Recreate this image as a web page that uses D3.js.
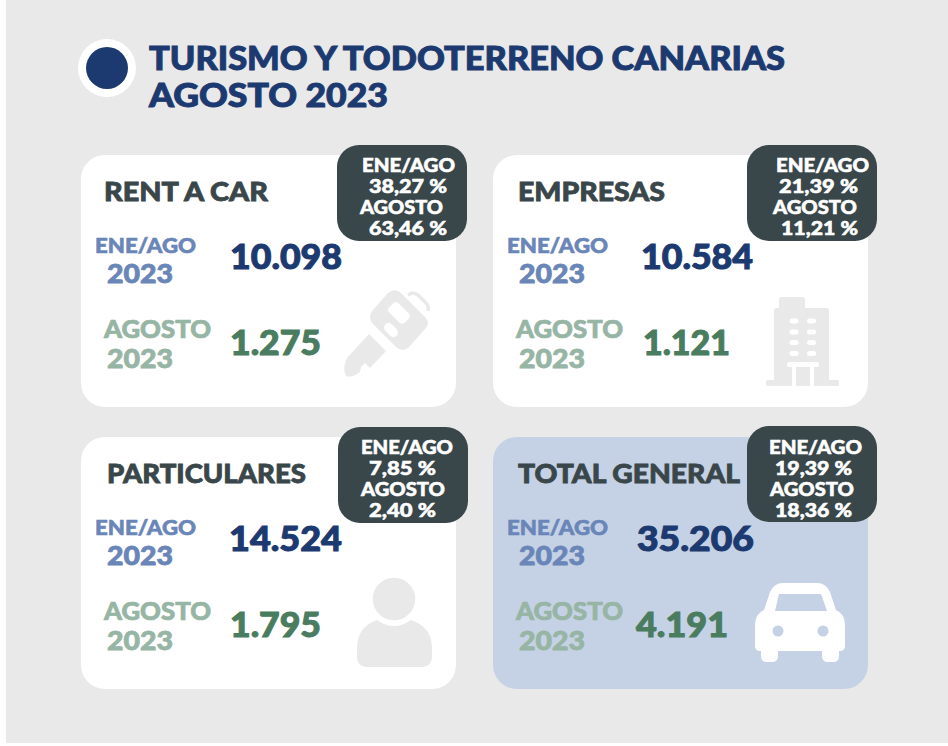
<!DOCTYPE html>
<html>
<head>
<meta charset="utf-8">
<script src="https://cdn.jsdelivr.net/npm/d3@7"></script>
<style>
  html, body { margin: 0; padding: 0; background: #fff; }
  text { font-family: "Lato", "Open Sans", sans-serif; font-weight: 900; }
</style>
</head>
<body>
<svg id="chart" width="948" height="746"></svg>
<script>
// Data
const categories = ["RENT A CAR", "EMPRESAS", "PARTICULARES", "TOTAL GENERAL"];
const eneAgoValues = [10098, 10584, 14524, 35206];
const agostoValues = [1275, 1121, 1795, 4191];
const eneAgoChange = [38.27, 21.39, 7.85, 19.39];
const agostoChange = [63.46, 11.21, 2.4, 18.36];
const titleLines = ["TURISMO Y TODOTERRENO CANARIAS", "AGOSTO 2023"];
const eneAgoLabel = "ENE/AGO";
const agostoLabel = "AGOSTO";
const yearLabel = "2023";

// Spanish number formats: 10.098 and 38,27 %
const esLocale = d3.formatLocale({ decimal: ",", thousands: ".", grouping: [3], currency: ["", " €"] });
const formatCount = esLocale.format(",d");
const formatPct = (v) => esLocale.format(".2f")(v) + " %";

// Layout: [x start, x end] of each text, relative to the card's left edge
const cardX = d3.scaleOrdinal().domain([0, 1, 2, 3]).range([81, 493, 81, 493]);
const cardY = d3.scaleOrdinal().domain([0, 1, 2, 3]).range([155, 155, 437, 437]);
const cardW = 375;
const cardH = 252;
const titleSpan = [[23, 187], [25, 172], [26, 225], [25, 247]];
const eneValueSpan = [[149, 261], [148, 260], [148, 261], [144, 261]];
const agoValueSpan = [[149, 240], [150, 237], [149, 240], [143, 235]];
const badgeX = [337, 747, 338, 747];
const badgeY = [145, 145, 427, 426];
const badgeSpans = [
  [[362, 455], [369, 447], [360, 443], [369, 447]],
  [[776, 869], [779, 858], [773, 857], [781, 858]],
  [[361, 453], [369, 436], [361, 445], [369, 436]],
  [[769, 862], [775, 852], [770, 854], [775, 852]]
];

const navy = "#1c3a70";
const slate = "#39464a";
const iconGrey = "#e9e9e9";

const svg = d3.select("#chart");

// Page background, a white strip stays on the left and at the bottom
svg.append("rect").attr("x", 6).attr("y", 0).attr("width", 942).attr("height", 743).attr("fill", "#e9e9e9");

// Helper: real text stretched to the span it has in the picture,
// with a thin outline because Lato Black is lighter than the original face
function addText(parent, str, span, baseline, size, color) {
  return parent
    .append("text")
    .attr("x", span[0])
    .attr("y", baseline)
    .attr("font-size", size)
    .attr("fill", color)
    .attr("stroke", color)
    .attr("stroke-width", size * 0.03)
    .attr("textLength", span[1] - span[0])
    .attr("lengthAdjust", "spacingAndGlyphs")
    .text(str);
}

// Header
svg.append("circle").attr("cx", 107).attr("cy", 68).attr("r", 29).attr("fill", "#fff");
svg.append("circle").attr("cx", 107).attr("cy", 68).attr("r", 21).attr("fill", navy);
addText(svg, titleLines[0], [149, 785], 70, 33, navy);
addText(svg, titleLines[1], [149, 388], 106.5, 33, navy);

// Icons, in page coordinates
function drawKey(g) {
  g.append("path")
    .attr("fill", iconGrey)
    .attr("d", "M388,293Q395,287 402,294L425,317Q431,323 425,329L409,347Q403,353 396,347L373,324Q367,317 373,310Z");
  g.append("path")
    .attr("fill", iconGrey)
    .attr("d", "M369,334L386,351L370,368L365,363L361,367L360,372Q352,378 346,376Q342,368 347,358Z");
  g.append("path")
    .attr("fill", "none")
    .attr("stroke", iconGrey)
    .attr("stroke-width", 3.5)
    .attr("d", "M408,295L412,293Q416,293 419,296L426,303Q429,306 428,311");
  g.append("rect").attr("x", -6.5).attr("y", -11).attr("width", 13).attr("height", 22).attr("rx", 4)
    .attr("fill", "#fff").attr("transform", "translate(399,313) rotate(-45)");
  g.append("rect").attr("x", -4.5).attr("y", -8).attr("width", 9).attr("height", 16).attr("rx", 4.5)
    .attr("fill", "#fff").attr("transform", "translate(391,330) rotate(-45)");
}

function drawBuilding(g) {
  g.append("path")
    .attr("fill", iconGrey)
    .attr("d", "M781,297H802Q805,297 805,300V308H826Q829,308 829,311V380H838Q839,380 839,383V385Q839,386 837,386H768Q766,386 766,384V382Q766,380 768,380H774V311Q774,308 777,308H779V300Q779,297 781,297Z");
  const win = [318.5, 329.5, 340, 351];
  win.forEach((y) => {
    [789.5, 807].forEach((x) => {
      g.append("rect").attr("x", x).attr("y", y).attr("width", 9).attr("height", 5).attr("rx", 2.5).attr("fill", "#fff");
    });
  });
  g.append("rect").attr("x", 787).attr("y", 362).attr("width", 32).attr("height", 5).attr("rx", 2).attr("fill", "#fff");
  g.append("rect").attr("x", 792).attr("y", 366).attr("width", 4).attr("height", 21).attr("fill", "#fff");
  g.append("rect").attr("x", 810).attr("y", 366).attr("width", 4).attr("height", 21).attr("fill", "#fff");
}

function drawPerson(g) {
  g.append("path")
    .attr("fill", iconGrey)
    .attr("d", "M377,620Q394,632 411,620Q432,627 432,648V656Q432,667 421,667H368Q357,667 357,656V648Q357,627 377,620Z");
  g.append("circle").attr("cx", 394).attr("cy", 599).attr("r", 22).attr("fill", iconGrey)
    .attr("stroke", "#fff").attr("stroke-width", 1.5);
}

function drawCar(g) {
  const bg = "#c5d1e4";
  g.append("path")
    .attr("fill", "#fff")
    .attr("d", "M777,583H817Q826,583 830,592L836,610Q845,614 845,625V646Q845,651 840,651H839V656Q839,662 833,662H828Q822,662 822,656V651H778V656Q778,662 772,662H767Q761,662 761,656V651H760Q755,651 755,646V625Q755,614 764,610L770,592Q774,583 783,583Z");
  g.append("path").attr("fill", bg).attr("d", "M779,594H821L827,611H775Z");
  g.append("circle").attr("cx", 778).attr("cy", 631).attr("r", 5.5).attr("fill", bg);
  g.append("circle").attr("cx", 823).attr("cy", 631).attr("r", 5.5).attr("fill", bg);
}

const iconDrawers = [drawKey, drawBuilding, drawPerson, drawCar];

// Cards
categories.forEach((name, i) => {
  const x = cardX(i);
  const y = cardY(i);
  const shift = (span) => [x + span[0], x + span[1]];
  const isTotal = i === 3;

  svg.append("rect")
    .attr("x", x).attr("y", y)
    .attr("width", cardW).attr("height", cardH)
    .attr("rx", 24)
    .attr("fill", isTotal ? "#c5d1e4" : "#fff");

  iconDrawers[i](svg.append("g").attr("class", "icon"));

  addText(svg, name, shift(titleSpan[i]), y + 45.5, 27, slate);

  // Period labels, blue for the year to date and green for the month
  addText(svg, eneAgoLabel, [x + 14, x + 115], y + 97.5, 21, "#6a86b8");
  addText(svg, yearLabel, [x + 26, x + 92], y + 127.5, 27, "#6a86b8");
  addText(svg, agostoLabel, [x + 23, x + 130], y + 182.5, 24.5, "#97b5a4");
  addText(svg, yearLabel, [x + 26, x + 92], y + 212.5, 27, "#97b5a4");

  addText(svg, formatCount(eneAgoValues[i]), shift(eneValueSpan[i]), y + 113.5, 35, navy);
  addText(svg, formatCount(agostoValues[i]), shift(agoValueSpan[i]), y + 199.5, 35, "#4a7c60");

  // Dark badge with the percentages
  const bx = badgeX[i];
  const by = badgeY[i];
  svg.append("rect")
    .attr("x", bx).attr("y", by)
    .attr("width", 130).attr("height", 96)
    .attr("rx", 22)
    .attr("fill", slate);
  const lines = [eneAgoLabel, formatPct(eneAgoChange[i]), agostoLabel, formatPct(agostoChange[i])];
  lines.forEach((str, k) => {
    addText(svg, str, badgeSpans[i][k], y + 16.5 + k * 21, 19.5, "#fff");
  });
});
</script>
</body>
</html>
